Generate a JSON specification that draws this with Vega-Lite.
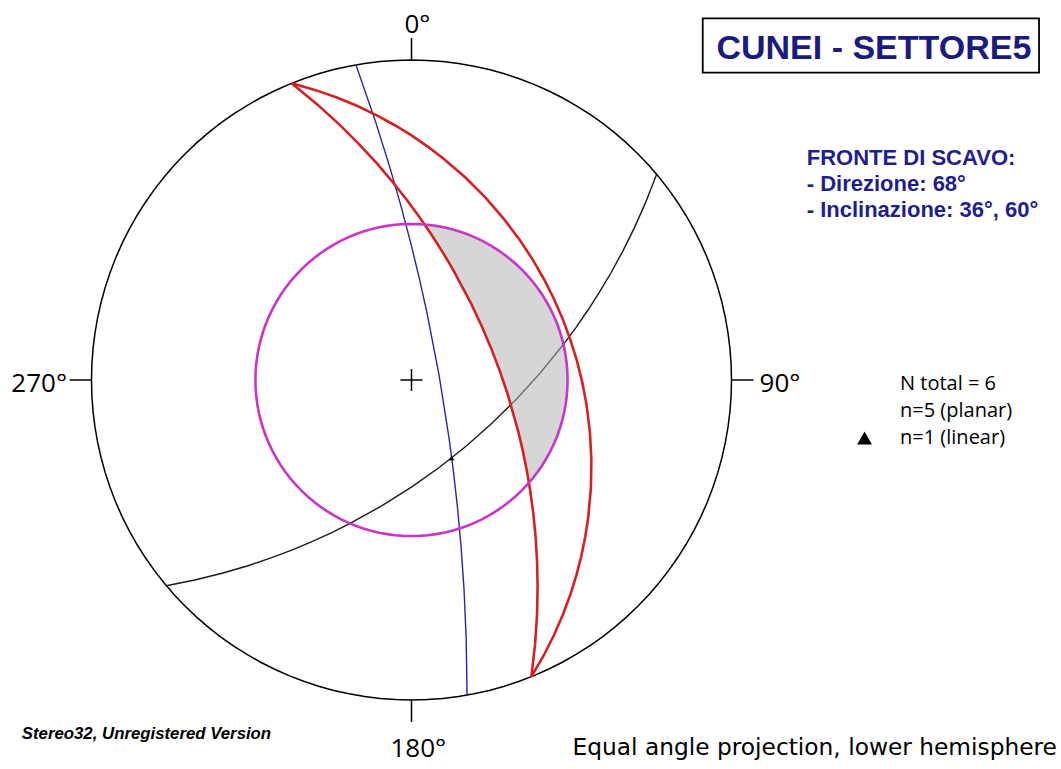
{
  "$schema": "https://vega.github.io/schema/vega-lite/v6.json",
  "width": 1061,
  "height": 769,
  "autosize": {"type": "none"},
  "padding": 0,
  "background": "white",
  "config": {"view": {"stroke": null}},
  "projection": {"type": "stereographic", "rotate": [180, -90, 0], "reflectX": true, "scale": 320, "translate": [411.5, 380], "precision": 0.3},
  "datasets": {
    "frame": [
      {"type": "Feature", "properties": {"part": "primitive"}, "geometry": {"type": "LineString", "coordinates": [[0, 0], [45, 0], [90, 0], [135, 0], [180, 0], [225, 0], [270, 0], [315, 0], [360, 0]]}},
      {"type": "Feature", "properties": {"part": "tick N"}, "geometry": {"type": "LineString", "coordinates": [[0, 0], [0, -3.8]]}},
      {"type": "Feature", "properties": {"part": "tick E"}, "geometry": {"type": "LineString", "coordinates": [[90, 0], [90, -3.8]]}},
      {"type": "Feature", "properties": {"part": "tick S"}, "geometry": {"type": "LineString", "coordinates": [[180, 0], [180, -3.8]]}},
      {"type": "Feature", "properties": {"part": "tick W"}, "geometry": {"type": "LineString", "coordinates": [[270, 0], [270, -3.8]]}},
      {"type": "Feature", "properties": {"part": "cross NS"}, "geometry": {"type": "LineString", "coordinates": [[0, 86.06], [180, 86.06]]}},
      {"type": "Feature", "properties": {"part": "cross EW"}, "geometry": {"type": "LineString", "coordinates": [[90, 86.06], [270, 86.06]]}}
    ],
    "blackPlane": [
      {"type": "Feature", "properties": {"dipdir": 140, "dip": 60}, "geometry": {"type": "LineString", "coordinates": [[50, 0], [140, 60], [230, 0]]}}
    ],
    "bluePlane": [
      {"type": "Feature", "properties": {"dipdir": 80, "dip": 80}, "geometry": {"type": "LineString", "coordinates": [[350, 0], [80, 80], [170, 0]]}}
    ],
    "slopes": [
      {"type": "Feature", "properties": {"dipdir": 68, "dip": 36}, "geometry": {"type": "LineString", "coordinates": [[338, 0], [8, 19.97], [38, 32.18], [68, 36], [98, 32.18], [128, 19.97], [158, 0]]}},
      {"type": "Feature", "properties": {"dipdir": 68, "dip": 60}, "geometry": {"type": "LineString", "coordinates": [[338, 0], [8, 40.89], [38, 56.31], [68, 60], [98, 56.31], [128, 40.89], [158, 0]]}}
    ],
    "friction": [
      {"type": "Feature", "properties": {"phi": 38}, "geometry": {"type": "LineString", "coordinates": [[0,38],[3,38],[6,38],[9,38],[12,38],[15,38],[18,38],[21,38],[24,38],[27,38],[30,38],[33,38],[36,38],[39,38],[42,38],[45,38],[48,38],[51,38],[54,38],[57,38],[60,38],[63,38],[66,38],[69,38],[72,38],[75,38],[78,38],[81,38],[84,38],[87,38],[90,38],[93,38],[96,38],[99,38],[102,38],[105,38],[108,38],[111,38],[114,38],[117,38],[120,38],[123,38],[126,38],[129,38],[132,38],[135,38],[138,38],[141,38],[144,38],[147,38],[150,38],[153,38],[156,38],[159,38],[162,38],[165,38],[168,38],[171,38],[174,38],[177,38],[180,38],[183,38],[186,38],[189,38],[192,38],[195,38],[198,38],[201,38],[204,38],[207,38],[210,38],[213,38],[216,38],[219,38],[222,38],[225,38],[228,38],[231,38],[234,38],[237,38],[240,38],[243,38],[246,38],[249,38],[252,38],[255,38],[258,38],[261,38],[264,38],[267,38],[270,38],[273,38],[276,38],[279,38],[282,38],[285,38],[288,38],[291,38],[294,38],[297,38],[300,38],[303,38],[306,38],[309,38],[312,38],[315,38],[318,38],[321,38],[324,38],[327,38],[330,38],[333,38],[336,38],[339,38],[342,38],[345,38],[348,38],[351,38],[354,38],[357,38],[360,38]]}}
    ],
    "zone": [
      {"type": "Feature", "properties": {"zone": "critical"}, "geometry": {"type": "Polygon", "coordinates": [[[4.81,38],[8,40.89],[38,56.31],[68,60],[98,56.31],[128,40.89],[131.19,38],[129,38],[126,38],[123,38],[120,38],[117,38],[114,38],[111,38],[108,38],[105,38],[102,38],[99,38],[96,38],[93,38],[90,38],[87,38],[84,38],[81,38],[78,38],[75,38],[72,38],[69,38],[66,38],[63,38],[60,38],[57,38],[54,38],[51,38],[48,38],[45,38],[42,38],[39,38],[36,38],[33,38],[30,38],[27,38],[24,38],[21,38],[18,38],[15,38],[12,38],[9,38],[6,38],[4.81,38]]]}}
    ],
    "lineation": [{"trend": 152.7, "plunge": 59.4}],
    "cardinal": [
      {"label": "0°", "trend": 0.99, "plunge": -4.64},
      {"label": "90°", "trend": 91.82, "plunge": -8.09},
      {"label": "180°", "trend": 178.97, "plunge": -9.32},
      {"label": "270°", "trend": 268.2, "plunge": -8.67}
    ],
    "legendText": [{"lines": ["N total = 6", "n=5 (planar)", "n=1 (linear)"], "trend": 91.17, "plunge": -23.56}],
    "legendSymbol": [{"trend": 97.3, "plunge": -19.97}],
    "info": [{"lines": ["FRONTE DI SCAVO:", "- Direzione: 68°", "- Inclinazione: 36°, 60°"], "trend": 61.45, "plunge": -19.16}],
    "title": [{"label": "CUNEI - SETTORE5", "trend": 53.94, "plunge": -31.23}],
    "footLeft": [{"label": "Stereo32, Unregistered Version", "trend": 227.35, "plunge": -27.74}],
    "footRight": [{"label": "Equal angle projection, lower hemisphere", "trend": 120.15, "plunge": -43.59}]
  },
  "layer": [
    {"data": {"name": "frame"}, "mark": {"type": "geoshape", "filled": false, "stroke": "#000000", "strokeWidth": 1.5}},
    {"data": {"name": "blackPlane"}, "mark": {"type": "geoshape", "filled": false, "stroke": "#1a1a1a", "strokeWidth": 1.4}},
    {"data": {"name": "bluePlane"}, "mark": {"type": "geoshape", "filled": false, "stroke": "#2424a8", "strokeWidth": 1.4}},
    {"data": {"name": "zone"}, "mark": {"type": "geoshape", "filled": true, "fill": "#b4b4b4", "fillOpacity": 0.55, "strokeWidth": 0}},
    {"data": {"name": "slopes"}, "mark": {"type": "geoshape", "filled": false, "stroke": "#d42222", "strokeWidth": 2.6}},
    {"data": {"name": "friction"}, "mark": {"type": "geoshape", "filled": false, "stroke": "#c935c9", "strokeWidth": 2.6}},
    {
      "data": {"name": "lineation"},
      "mark": {"type": "point", "shape": "triangle-up", "filled": true, "color": "#000000", "size": 30, "opacity": 1},
      "encoding": {"longitude": {"field": "trend", "type": "quantitative"}, "latitude": {"field": "plunge", "type": "quantitative"}}
    },
    {
      "data": {"name": "cardinal"},
      "mark": {"type": "text", "font": "Open Sans", "fontSize": 26, "align": "center", "baseline": "alphabetic", "color": "#000000"},
      "encoding": {"longitude": {"field": "trend", "type": "quantitative"}, "latitude": {"field": "plunge", "type": "quantitative"}, "text": {"field": "label"}}
    },
    {
      "data": {"name": "legendText"},
      "mark": {"type": "text", "font": "Open Sans", "fontSize": 20, "align": "left", "baseline": "alphabetic", "lineHeight": 27, "color": "#000000"},
      "encoding": {"longitude": {"field": "trend", "type": "quantitative"}, "latitude": {"field": "plunge", "type": "quantitative"}, "text": {"field": "lines"}}
    },
    {
      "data": {"name": "legendSymbol"},
      "mark": {"type": "point", "shape": "triangle-up", "filled": true, "color": "#000000", "size": 220, "opacity": 1},
      "encoding": {"longitude": {"field": "trend", "type": "quantitative"}, "latitude": {"field": "plunge", "type": "quantitative"}}
    },
    {
      "data": {"name": "info"},
      "mark": {"type": "text", "font": "Liberation Sans", "fontWeight": "bold", "fontSize": 22, "align": "left", "baseline": "alphabetic", "lineHeight": 26, "color": "#1e1e8c"},
      "encoding": {"longitude": {"field": "trend", "type": "quantitative"}, "latitude": {"field": "plunge", "type": "quantitative"}, "text": {"field": "lines"}}
    },
    {
      "data": {"name": "title"},
      "mark": {"type": "point", "shape": "M-1,-0.1618L1,-0.1618L1,0.1618L-1,0.1618Z", "filled": false, "stroke": "#000000", "strokeWidth": 1.8, "size": 113098, "opacity": 1},
      "encoding": {"longitude": {"field": "trend", "type": "quantitative"}, "latitude": {"field": "plunge", "type": "quantitative"}}
    },
    {
      "data": {"name": "title"},
      "mark": {"type": "text", "font": "Liberation Sans", "fontWeight": "bold", "fontSize": 34, "align": "center", "baseline": "alphabetic", "dx": 3, "dy": 13, "color": "#1a1a80"},
      "encoding": {"longitude": {"field": "trend", "type": "quantitative"}, "latitude": {"field": "plunge", "type": "quantitative"}, "text": {"field": "label"}}
    },
    {
      "data": {"name": "footLeft"},
      "mark": {"type": "text", "font": "Liberation Sans", "fontWeight": "bold", "fontStyle": "italic", "fontSize": 16.8, "align": "left", "baseline": "alphabetic", "color": "#000000"},
      "encoding": {"longitude": {"field": "trend", "type": "quantitative"}, "latitude": {"field": "plunge", "type": "quantitative"}, "text": {"field": "label"}}
    },
    {
      "data": {"name": "footRight"},
      "mark": {"type": "text", "font": "DejaVu Sans", "fontSize": 23.3, "align": "right", "baseline": "alphabetic", "color": "#000000"},
      "encoding": {"longitude": {"field": "trend", "type": "quantitative"}, "latitude": {"field": "plunge", "type": "quantitative"}, "text": {"field": "label"}}
    }
  ]
}
